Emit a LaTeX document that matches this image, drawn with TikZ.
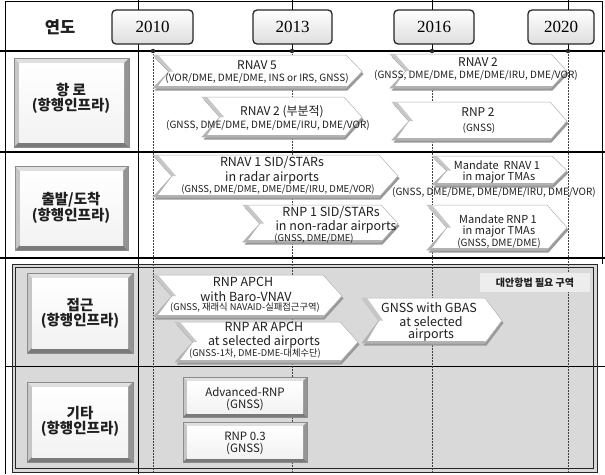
\documentclass[tikz,border=0pt]{standalone}
\usepackage{fontspec}
\setmainfont{Noto Sans CJK KR}
\newfontfamily\yearfont{Liberation Serif}
\usetikzlibrary{calc}
\definecolor{graybg}{HTML}{D9D9D9}
\tikzset{
  frameline/.style={black, line width=0.8pt},
  rowline/.style={black, line width=2pt},
  yeardash/.style={black!75, line width=0.5pt, dash pattern=on 2pt off 1pt},
  chevshadow/.style={fill=black!40},
  chevface/.style={fill=white, draw=black!30, line width=0.5pt},
  txt/.style={inner sep=0pt, anchor=center, text=black!88},
  yearbox/.style={draw=black!85, line width=1.3pt, rounded corners=4pt, top color=white, bottom color=black!13,
     minimum height=34pt, inner sep=0pt, font=\yearfont\fontsize{17}{17}\selectfont},
}
\newcommand\tl[5]{\node[txt,font={\fontsize{#4}{#4}\selectfont}] (#1) at (#2,#3) {#5};}
\newcommand\tlb[5]{\node[txt,font={\bfseries\fontsize{#4}{#4}\selectfont}] (#1) at (#2,#3) {#5};}
% chevron: [depth] x1 y1 x2 y2
\newcommand\chev[5][17]{%
  \fill[chevshadow,shift={(1.5,2.5)}] (#2,#3) -- ({#4-#1},#3) -- (#4,{(#3+#5)/2}) -- ({#4-#1},#5) -- (#2,#5) -- ({#2+#1},{(#3+#5)/2}) -- cycle;
  \filldraw[chevface] (#2,#3) -- ({#4-#1},#3) -- (#4,{(#3+#5)/2}) -- ({#4-#1},#5) -- (#2,#5) -- ({#2+#1},{(#3+#5)/2}) -- cycle;
  \fill[black!22] (#2,#3) -- ({#2+#1},{(#3+#5)/2}) -- ({#2+#1+4},{(#3+#5)/2}) -- ({#2+5},#3) -- cycle;
  \fill[black!30] ({#2+#1},{(#3+#5)/2}) -- (#2,#5) -- ({#4-#1},#5) -- ({#4-#1+1},{#5-2}) -- ({#2+5},{#5-2}) -- cycle;
}
% bevel box: [bevel] x1 y1 x2 y2
\newcommand\bevbox[5][5]{%
  \fill[black!12] (#2,#3) -- (#4,#3) -- ({#4-#1},{#3+#1}) -- ({#2+#1},{#3+#1}) -- cycle;
  \fill[black!22] (#2,#3) -- ({#2+#1},{#3+#1}) -- ({#2+#1},{#5-#1}) -- (#2,#5) -- cycle;
  \fill[black!42] (#4,#3) -- (#4,#5) -- ({#4-#1},{#5-#1}) -- ({#4-#1},{#3+#1}) -- cycle;
  \fill[black!52] (#2,#5) -- (#4,#5) -- ({#4-#1},{#5-#1}) -- ({#2+#1},{#5-#1}) -- cycle;
  \shade[top color=white, bottom color=black!5] ({#2+#1},{#3+#1}) rectangle ({#4-#1},{#5-#1});
  \draw[black!45, line width=0.5pt] (#2,#3) rectangle (#4,#5);
}
\begin{document}
\begin{tikzpicture}[x=1pt,y=-1pt]
\useasboundingbox (0,0) rectangle (605,474);
\fill[white] (0,0) rectangle (605,474);
% grey region (approach + other)
\fill[graybg] (12,264) rectangle (597,472);
% frame and grid
\draw[frameline] (5.5,474) -- (5.5,1) -- (602,1) -- (602,264);
\draw[rowline] (0,51) -- (605,51);
\draw[rowline] (0,152) -- (605,152);
\draw[rowline] (0,258) -- (605,258);
\draw[black, line width=1.4pt] (5.5,366.5) -- (605,366.5);
\draw[frameline] (138,0) -- (138,474);
\draw[black!85, line width=1pt] (12,264) rectangle (597,472);
\draw[black!85, line width=0.8pt] (15.5,267.5) rectangle (593.5,468.5);
% year ticks
\foreach \x/\n in {292/b,432/c,568/d} \draw[black, line width=0.6pt] (\x,0) -- (\x,51);
\foreach \x/\n in {153/a,292/b,432/c,568/d}{
  \coordinate (t\n) at (\x,51);
  \coordinate (e\n) at (\x,472);
  \draw[yeardash] (t\n) -- (e\n);
  \fill[black!85] (t\n) circle (2.2);
}
% header
\tlb{hdr}{60}{27}{16.5}{연도}
\node[yearbox, minimum width=81pt] (y2010) at (152.5,27) {2010};
\node[yearbox, minimum width=79pt] (y2013) at (292.5,27) {2013};
\node[yearbox, minimum width=80pt] (y2016) at (434,27) {2016};
\node[yearbox, minimum width=66pt] (y2020) at (561,27) {2020};
% row labels
\bevbox{14}{58}{129}{147}
\tlb{l1a}{71}{90}{14.5}{항 로}
\tlb{l1b}{71}{106}{14.5}{(항행인프라)}
\bevbox{15}{166}{128}{250}
\tlb{l2a}{71}{200}{14.5}{출발/도착}
\tlb{l2b}{71}{216}{14.5}{(항행인프라)}
\bevbox{27}{273}{133}{353}
\tlb{l3a}{80}{305}{14.5}{접근}
\tlb{l3b}{80}{321}{14.5}{(항행인프라)}
\bevbox{27}{382}{133}{462}
\tlb{l4a}{80}{413}{14.5}{기타}
\tlb{l4b}{80}{429}{14.5}{(항행인프라)}
% row 1: en-route
\chev[16]{153}{55}{362}{88}
\tl{a1}{257}{65}{12}{RNAV 5}
\tl{a2}{257}{78.5}{10}{(VOR/DME, DME/DME, INS or IRS, GNSS)}
\chev[18]{202}{97}{362}{137}
\tl{b1}{282}{112}{12}{RNAV 2 (부분적)}
\tl{b2}{268}{125.5}{10}{(GNSS, DME/DME, DME/DME/IRU, DME/VOR)}
\chev[16]{390}{54}{567}{88}
\tl{c1}{478}{62}{12}{RNAV 2}
\tl{c2}{476}{75.5}{10}{(GNSS, DME/DME, DME/DME/IRU, DME/VOR)}
\chev[17]{392}{102}{567}{140}
\tl{d1}{478}{112}{12}{RNP 2}
\tl{d2}{479}{128}{10}{(GNSS)}
% row 2: departure / arrival
\chev[19]{153}{155}{398}{197}
\tl{e1}{272}{163}{12.5}{RNAV 1 SID/STARs}
\tl{e2}{272}{177.5}{12.5}{in radar airports}
\tl{e3}{278}{190}{9.5}{(GNSS, DME/DME, DME/DME/IRU, DME/VOR)}
\chev[17]{243}{205}{398}{242}
\tl{f1}{331}{213}{12.5}{RNP 1 SID/STARs}
\tl{f2}{336}{227}{12.5}{in non-radar airports}
\tl{f3}{314}{238.5}{9.5}{(GNSS, DME/DME)}
\chev[15]{432}{156}{567}{185}
\tl{g1}{497}{165}{11}{Mandate\ \ RNAV 1}
\tl{g2}{499}{177.5}{11}{in major TMAs}
\tl{g3}{494}{192}{10}{(GNSS, DME/DME, DME/DME/IRU, DME/VOR)}
\chev[20]{427}{205}{567}{250}
\tl{h1}{498}{219}{11}{Mandate RNP 1}
\tl{h2}{499}{231.5}{11}{in major TMAs}
\tl{h3}{499}{243.5}{10}{(GNSS, DME/DME)}
% row 3: approach
\node[fill=black!7, minimum width=110pt, minimum height=19pt, inner sep=0pt] (altbox) at (535,282.5) {};
\tlb{alt}{535}{282.5}{10}{대안항법 필요 구역}
\chev[19]{153}{275}{342}{317}
\tl{i1}{243}{282}{12.5}{RNP APCH}
\tl{i2}{246}{296.5}{12.5}{with Baro-VNAV}
\tl{i3}{245}{308}{9.3}{(GNSS, 재래식 NAVAID-실패접근구역)}
\chev[18]{175}{322}{358}{362}
\tl{j1}{264}{327}{12.5}{RNP AR APCH}
\tl{j2}{264}{342}{12.5}{at selected airports}
\tl{j3}{255}{354}{9.3}{(GNSS-1차, DME-DME-대체수단)}
\chev[17]{362}{298}{502}{343}
\tl{k1}{429}{308}{12.5}{GNSS with GBAS}
\tl{k2}{431}{322}{12.5}{at selected}
\tl{k3}{431}{335}{12.5}{airports}
% row 4: other
\bevbox[4]{183}{377}{307}{417}
\tl{m1}{245}{391.5}{11.5}{Advanced-RNP}
\tl{m2}{245}{405}{11.5}{(GNSS)}
\bevbox[4]{183}{422}{307}{462}
\tl{n1}{245}{436.5}{11.5}{RNP 0.3}
\tl{n2}{245}{449}{11.5}{(GNSS)}
\end{tikzpicture}
\end{document}
